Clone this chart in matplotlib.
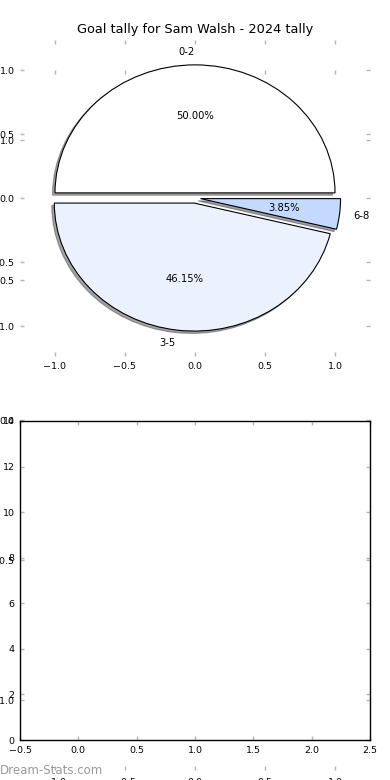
import numpy as np
import matplotlib
matplotlib.use('Agg')
import matplotlib.pyplot as plt

# goal tally buckets for the season
labels = ['0-2', '3-5', '6-8']
counts = [13, 12, 1]
colors = ['#ffffff', '#ebf1fd', '#c5d9fe']
explode = [0.04, 0.04, 0.04]

title = 'Goal tally for Sam Walsh - 2024 tally'

# tick values
pie_ticks = [-1.0, -0.5, 0.0, 0.5, 1.0]
bar_xticks = [-0.5, 0.0, 0.5, 1.0, 1.5, 2.0, 2.5]
bar_yticks = [0, 2, 4, 6, 8, 10, 12, 14]

W, H = 390.0, 780.0

plt.rcParams['xtick.direction'] = 'in'
plt.rcParams['ytick.direction'] = 'in'
plt.rcParams['xtick.top'] = True
plt.rcParams['ytick.right'] = True
plt.rcParams['xtick.color'] = '#b5b5b5'
plt.rcParams['ytick.color'] = '#b5b5b5'
plt.rcParams['xtick.labelcolor'] = 'black'
plt.rcParams['ytick.labelcolor'] = 'black'
plt.rcParams['xtick.major.size'] = 3
plt.rcParams['ytick.major.size'] = 3
plt.rcParams['xtick.major.width'] = 1
plt.rcParams['ytick.major.width'] = 1
plt.rcParams['xtick.labelsize'] = 6.8
plt.rcParams['ytick.labelsize'] = 6.8
plt.rcParams['xtick.major.pad'] = 4
plt.rcParams['ytick.major.pad'] = 4

fig = plt.figure(figsize=(3.9, 7.8), dpi=100)

# leftover full height axes behind everything
ax_big = fig.add_axes([20 / W, 10 / H, 350 / W, 700 / H])
ax_big.set_facecolor('none')
ax_big.set_frame_on(False)
ax_big.set_xlim(-1.25, 1.25)
ax_big.set_ylim(-1.25, 1.25)
ax_big.set_xticks(pie_ticks)
ax_big.set_yticks(pie_ticks)
ax_big.tick_params(axis='x', pad=5.5)

# pie
ax_pie = fig.add_axes([20 / W, 1 - 356 / H, 350 / W, 316 / H])
ax_pie.set_facecolor('none')
ax_pie.pie(counts, labels=labels, colors=colors, explode=explode,
           autopct='%.2f%%', startangle=0,
           shadow={'ox': -0.013, 'oy': -0.013},
           wedgeprops={'linewidth': 0.8, 'edgecolor': 'black'},
           textprops={'fontsize': 7.2})
ax_pie.set_aspect('auto')
ax_pie.set_frame_on(False)
ax_pie.set_xlim(-1.25, 1.25)
ax_pie.set_ylim(-158 / 128, 158 / 128)
ax_pie.set_xticks(pie_ticks)
ax_pie.set_yticks(pie_ticks)
ax_pie.set_title(title, fontsize=9.3, pad=5)

# empty bar axes
ax_bar = fig.add_axes([20 / W, 1 - 740 / H, 350 / W, 319 / H])
ax_bar.set_facecolor('none')
ax_bar.set_xlim(-0.5, 2.5)
ax_bar.set_ylim(0, 14)
ax_bar.set_xticks(bar_xticks)
ax_bar.set_yticks(bar_yticks)
for s in ax_bar.spines.values():
    s.set_linewidth(1)

fig.text(0.0, 10 / H, 'Dream-Stats.com', color='#999999', fontsize=8.5,
         va='center', ha='left')

fig.savefig('out.png', dpi=100)
